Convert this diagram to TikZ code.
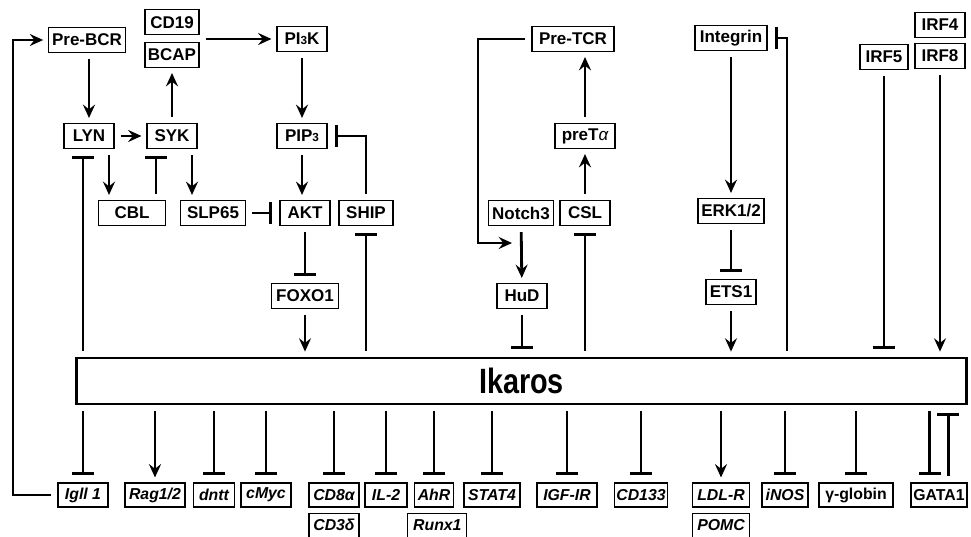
\documentclass[tikz,border=0pt]{standalone}
\usepackage{fontspec}
\usepackage{graphicx}
\setmainfont{Liberation Sans}
\usetikzlibrary{arrows.meta,positioning}

\begin{document}
\begin{tikzpicture}[x=0.03cm,y=-0.03cm,
	prot/.style={draw,line width=0.9pt,font=\fontsize{14.5}{14.5}\selectfont\bfseries,inner xsep=2pt,inner ysep=0pt,minimum height=7.5mm,minimum width=1.5cm},
	gene/.style={prot,font=\fontsize{13.5}{13.5}\selectfont\bfseries\itshape,minimum height=7.2mm},
	gprot/.style={gene,font=\fontsize{13.5}{13.5}\selectfont\bfseries},
	act/.style={line width=2.4pt,-{Stealth[length=4mm,width=3.6mm,inset=1.4mm]},shorten >=1.5mm,shorten <=1.8mm},
	inh/.style={line width=2.4pt,-{Bar[width=6.6mm]},shorten >=2.2mm,shorten <=1.8mm}]
	\useasboundingbox (0,0) rectangle (971,537);

	% B cell branch
	\node[prot,minimum width=2.3cm]  (prebcr) at (87,40)   {Pre-BCR};
	\node[prot,minimum width=1.62cm] (bcap)   at (172,55)  {BCAP};
	\node[prot,minimum width=1.62cm,above=2mm of bcap] (cd19) {CD19};
	\node[prot]  (pi3k)  at (302,39)  {PI{\fontsize{10}{10}\selectfont 3}K};
	\node[prot]  (lyn)   at (89,136)  {LYN};
	\node[prot]  (syk)   at (172,136) {SYK};
	\node[prot]  (pip3)  at (302,136) {PIP{\fontsize{10}{10}\selectfont 3}};
	\node[prot,minimum width=2cm]    (cbl)   at (132,213) {CBL};
	\node[prot,minimum width=1.95cm] (slp65) at (213,213) {SLP65};
	\node[prot]  (akt)   at (305,213) {AKT};
	\node[prot,minimum width=1.62cm] (ship)  at (366,213) {SHIP};
	\node[prot,minimum width=2cm]    (foxo1) at (305,296) {FOXO1};

	% T cell branch
	\node[prot,minimum width=2.46cm] (pretcr) at (573,39)  {Pre-TCR};
	\node[prot,minimum width=1.8cm]  (preta)  at (585,136) {preT{\mdseries\itshape α}};
	\node[prot,minimum width=1.95cm] (notch3) at (521,213) {Notch3};
	\node[prot]  (csl)   at (585,213) {CSL};
	\node[prot]  (hud)   at (522,296) {HuD};

	% right side
	\node[prot,minimum width=2.16cm] (integrin) at (731,38)  {Integrin};
	\node[prot,minimum width=1.98cm] (erk)      at (731,211) {ERK1/2};
	\node[prot]  (ets1)  at (731,292) {ETS1};
	\node[prot,minimum width=1.44cm] (irf5) at (884,57) {IRF5};
	\node[prot]  (irf8)  at (940,56)  {IRF8};
	\node[prot,above=1.5mm of irf8] (irf4) {IRF4};

	\node[draw,line width=2.4pt,inner sep=0pt,minimum width=26.7cm,minimum height=1.38cm,
		font=\fontsize{30}{30}\selectfont\bfseries] (ikaros) at (521.5,381) {\scalebox{0.82}[1]{Ikaros}};

	% targets
	\node[gene]  (igll)  at (83,495)  {Igll 1};
	\node[gene,minimum width=1.8cm]  (rag)   at (155,495) {Rag1/2};
	\node[gene,minimum width=1.23cm] (dntt)  at (214,495) {dntt};
	\node[gene]  (cmyc)  at (266,495) {cMyc};
	\node[gene]  (cd8a)  at (334,495) {CD8α};
	\node[gene,below=1.5mm of cd8a] (cd3d) {CD3δ};
	\node[gene,minimum width=1.26cm] (il2)   at (386,495) {IL-2};
	\node[gene,minimum width=1.17cm] (ahr)   at (434,495) {AhR};
	\node[gene,minimum width=1.77cm,below=1.5mm of ahr,xshift=1mm] (runx1) {Runx1};
	\node[gene,minimum width=1.68cm] (stat4) at (492,495) {STAT4};
	\node[gene,minimum width=1.8cm]  (igfir) at (567,495) {IGF-IR};
	\node[gene]  (cd133) at (641,495) {CD133};
	\node[gene,minimum width=1.71cm] (ldlr)  at (721,495) {LDL-R};
	\node[gene,minimum width=1.71cm,below=1.5mm of ldlr] (pomc) {POMC};
	\node[gene,minimum width=1.38cm] (inos)  at (785,495) {iNOS};
	\node[gprot,minimum width=2.22cm] (gglob) at (856,495) {γ-globin};
	\node[gprot,minimum width=1.68cm] (gata1) at (939,495) {GATA1};

	\coordinate (lynr) at ([xshift=6mm]lyn.south);
	\coordinate (lynl) at ([xshift=-1.8mm]lyn.south);
	\coordinate (sykr) at ([xshift=6mm]syk.south);
	\coordinate (cblr) at ([xshift=7.2mm]cbl.north);
	\coordinate (loopx) at (13,300);
	\coordinate (tcrturn) at (478,243);
	\coordinate (tcrend) at (517,243);
	\coordinate (intx) at (787,0);
	\coordinate (gatal) at ([xshift=-2.8mm]gata1.north);
	\coordinate (gatar) at ([xshift=2.8mm]gata1.north);

	\draw[act] (lyn.north |- prebcr.south) -- (lyn);
	\draw[act] (pi3k.west -| bcap.east) -- (pi3k);
	\draw[act] (lyn) -- (syk);
	\draw[act] (syk) -- (bcap);
	\draw[act] (pi3k) -- (pip3);
	\draw[act] (pip3) -- (pip3 |- akt.north);
	\draw[act] (lynr) -- (lynr |- cbl.north);
	\draw[act] (sykr) -- (sykr |- slp65.north);
	\draw[inh] (cblr) -- (cblr |- syk.south);
	\draw[inh] (lynl |- ikaros.north) -- (lynl);
	\draw[inh] (slp65) -- (akt);
	\draw[inh] (ship) |- (pip3);
	\draw[inh] (akt) -- (foxo1);
	\draw[act] (foxo1) -- (foxo1 |- ikaros.north);
	\draw[inh] (ship |- ikaros.north) -- (ship);
	\draw[act] (igll) -| (loopx) |- (prebcr);

	\draw[act] (pretcr) -| (tcrturn) -- (tcrend);
	\draw[act] (notch3) -- (hud);
	\draw[inh] (hud) -- (hud |- ikaros.north);
	\draw[act] (csl) -- (preta);
	\draw[act] (preta) -- (preta |- pretcr.south);
	\draw[inh] (csl |- ikaros.north) -- (csl);

	\draw[act] (integrin) -- (erk);
	\draw[inh] (erk) -- (ets1);
	\draw[act] (ets1) -- (ets1 |- ikaros.north);
	\draw[inh] (intx |- ikaros.north) |- (integrin);
	\draw[inh] (irf5) -- (irf5 |- ikaros.north);
	\draw[act] (irf8) -- (irf8 |- ikaros.north);

	\foreach \g in {igll,dntt,cmyc,cd8a,il2,ahr,stat4,igfir,cd133,inos,gglob}
		\draw[inh] (\g |- ikaros.south) -- (\g);
	\foreach \g in {rag,ldlr}
		\draw[act] (\g |- ikaros.south) -- (\g);
	\draw[inh] (gatal |- ikaros.south) -- (gatal);
	\draw[inh] (gatar) -- (gatar |- ikaros.south);
\end{tikzpicture}
\end{document}
